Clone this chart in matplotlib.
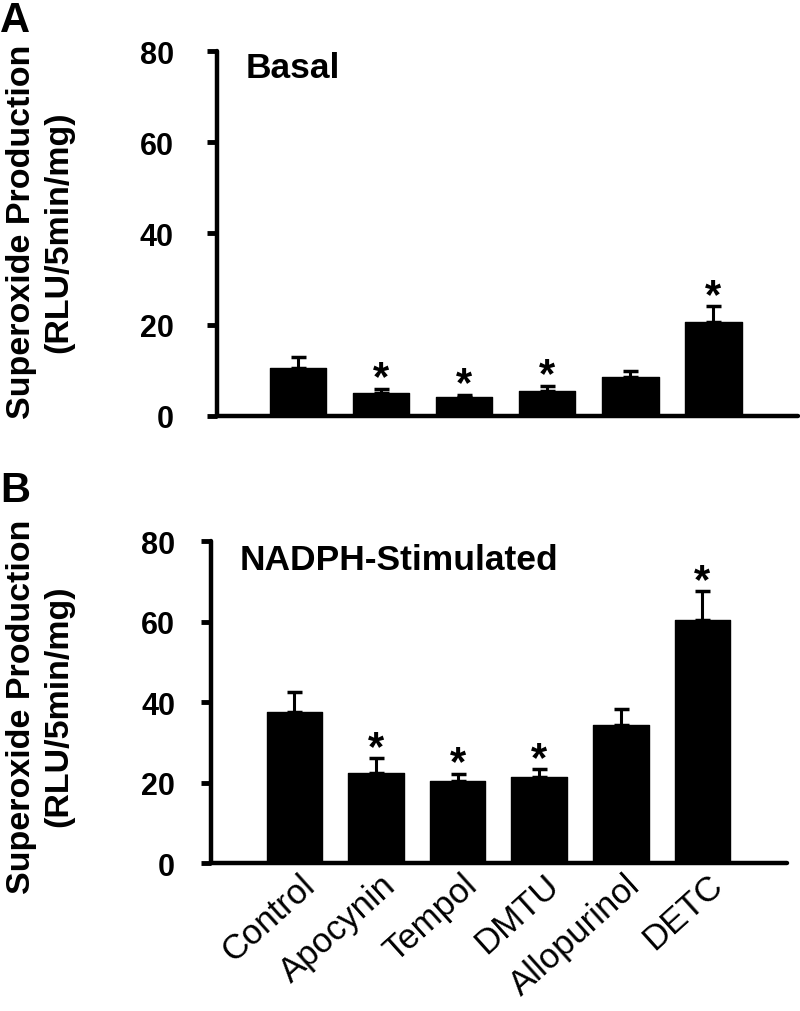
import matplotlib.pyplot as plt
import matplotlib.transforms as mtransforms
import numpy as np

plt.rcParams['font.family'] = ['Liberation Sans', 'DejaVu Sans']

# groups on the x axis
categories = ['Control', 'Apocynin', 'Tempol', 'DMTU', 'Allopurinol', 'DETC']

# panel A, basal
basal_mean = [10.5, 5.0, 4.1, 5.5, 8.5, 20.5]
basal_err = [2.4, 1.0, 0.6, 1.1, 1.4, 3.6]

# panel B, NADPH-stimulated
nadph_mean = [37.5, 22.5, 20.4, 21.4, 34.3, 60.4]
nadph_err = [5.0, 3.6, 1.8, 2.0, 4.0, 7.2]

# * = significant vs control
significant = [False, True, True, True, False, True]

yticks = [0, 20, 40, 60, 80]
ylabel = 'Superoxide Production\n(RLU/5min/mg)'

fig = plt.figure(figsize=(8, 10.12), dpi=100)
axA = fig.add_axes([0.271, 0.588, 0.7265, 0.3606])
axB = fig.add_axes([0.264, 0.146, 0.72, 0.3184])


def draw_panel(ax, mean, err, title, title_y, xlim, tick_pad):
    x = np.arange(len(categories))
    ax.bar(x, mean, width=0.68, color='black', edgecolor='black',
           linewidth=1, joinstyle='round', zorder=2)
    lower = np.zeros(len(err))
    ax.errorbar(x, mean, yerr=[lower, err], fmt='none', ecolor='black',
                elinewidth=2.2, capsize=5.4, capthick=2.5, zorder=1)
    # stars above the caps
    for i in range(len(x)):
        if significant[i]:
            ax.annotate('*', (x[i], mean[i] + err[i]), xytext=(0, -7),
                        textcoords='offset points', ha='center', va='bottom',
                        fontsize=30, fontweight='bold')
    ax.set_xlim(xlim)
    ax.set_ylim(0, 80)
    ax.set_yticks(yticks)
    ax.set_yticklabels([str(t) for t in yticks], fontsize=22, fontweight='bold')
    ax.tick_params(axis='y', length=7, width=3.5, pad=tick_pad)
    ax.tick_params(axis='x', length=0)
    for s in ['top', 'right']:
        ax.spines[s].set_visible(False)
    for s in ['left', 'bottom']:
        ax.spines[s].set_linewidth(3.2)
        ax.spines[s].set_capstyle('round')
    ax.text(0.05, title_y, title, transform=ax.transAxes, fontsize=25.5,
            fontweight='bold', va='baseline', ha='left')


draw_panel(axA, basal_mean, basal_err, 'Basal', 0.929, (-0.98, 6.02), 24)
axA.set_xticks(np.arange(len(categories)))
axA.set_xticklabels([])

draw_panel(axB, nadph_mean, nadph_err, 'NADPH-Stimulated', 0.913,
           (-1.02, 6.04), 19)
axB.set_xticks(np.arange(len(categories)))
axB.set_xticklabels(categories, fontsize=25, rotation=42, ha='right',
                    va='center', rotation_mode='anchor')
axB.tick_params(axis='x', pad=12)
shift = mtransforms.ScaledTranslation(11 / 72, 0, fig.dpi_scale_trans)
for lab in axB.get_xticklabels():
    lab.set_transform(lab.get_transform() + shift)

# y labels, two lines each
fig.text(0.05, 0.7705, ylabel, rotation=90, ha='center', va='center',
         fontsize=24.5, fontweight='bold', linespacing=1.25)
fig.text(0.05, 0.302, ylabel, rotation=90, ha='center', va='center',
         fontsize=24.5, fontweight='bold', linespacing=1.25)

# panel letters
fig.text(0.0, 0.999, 'A', fontsize=30, fontweight='bold', ha='left', va='top')
fig.text(0.0, 0.535, 'B', fontsize=30, fontweight='bold', ha='left', va='top')

fig.savefig('out.png', dpi=100)
